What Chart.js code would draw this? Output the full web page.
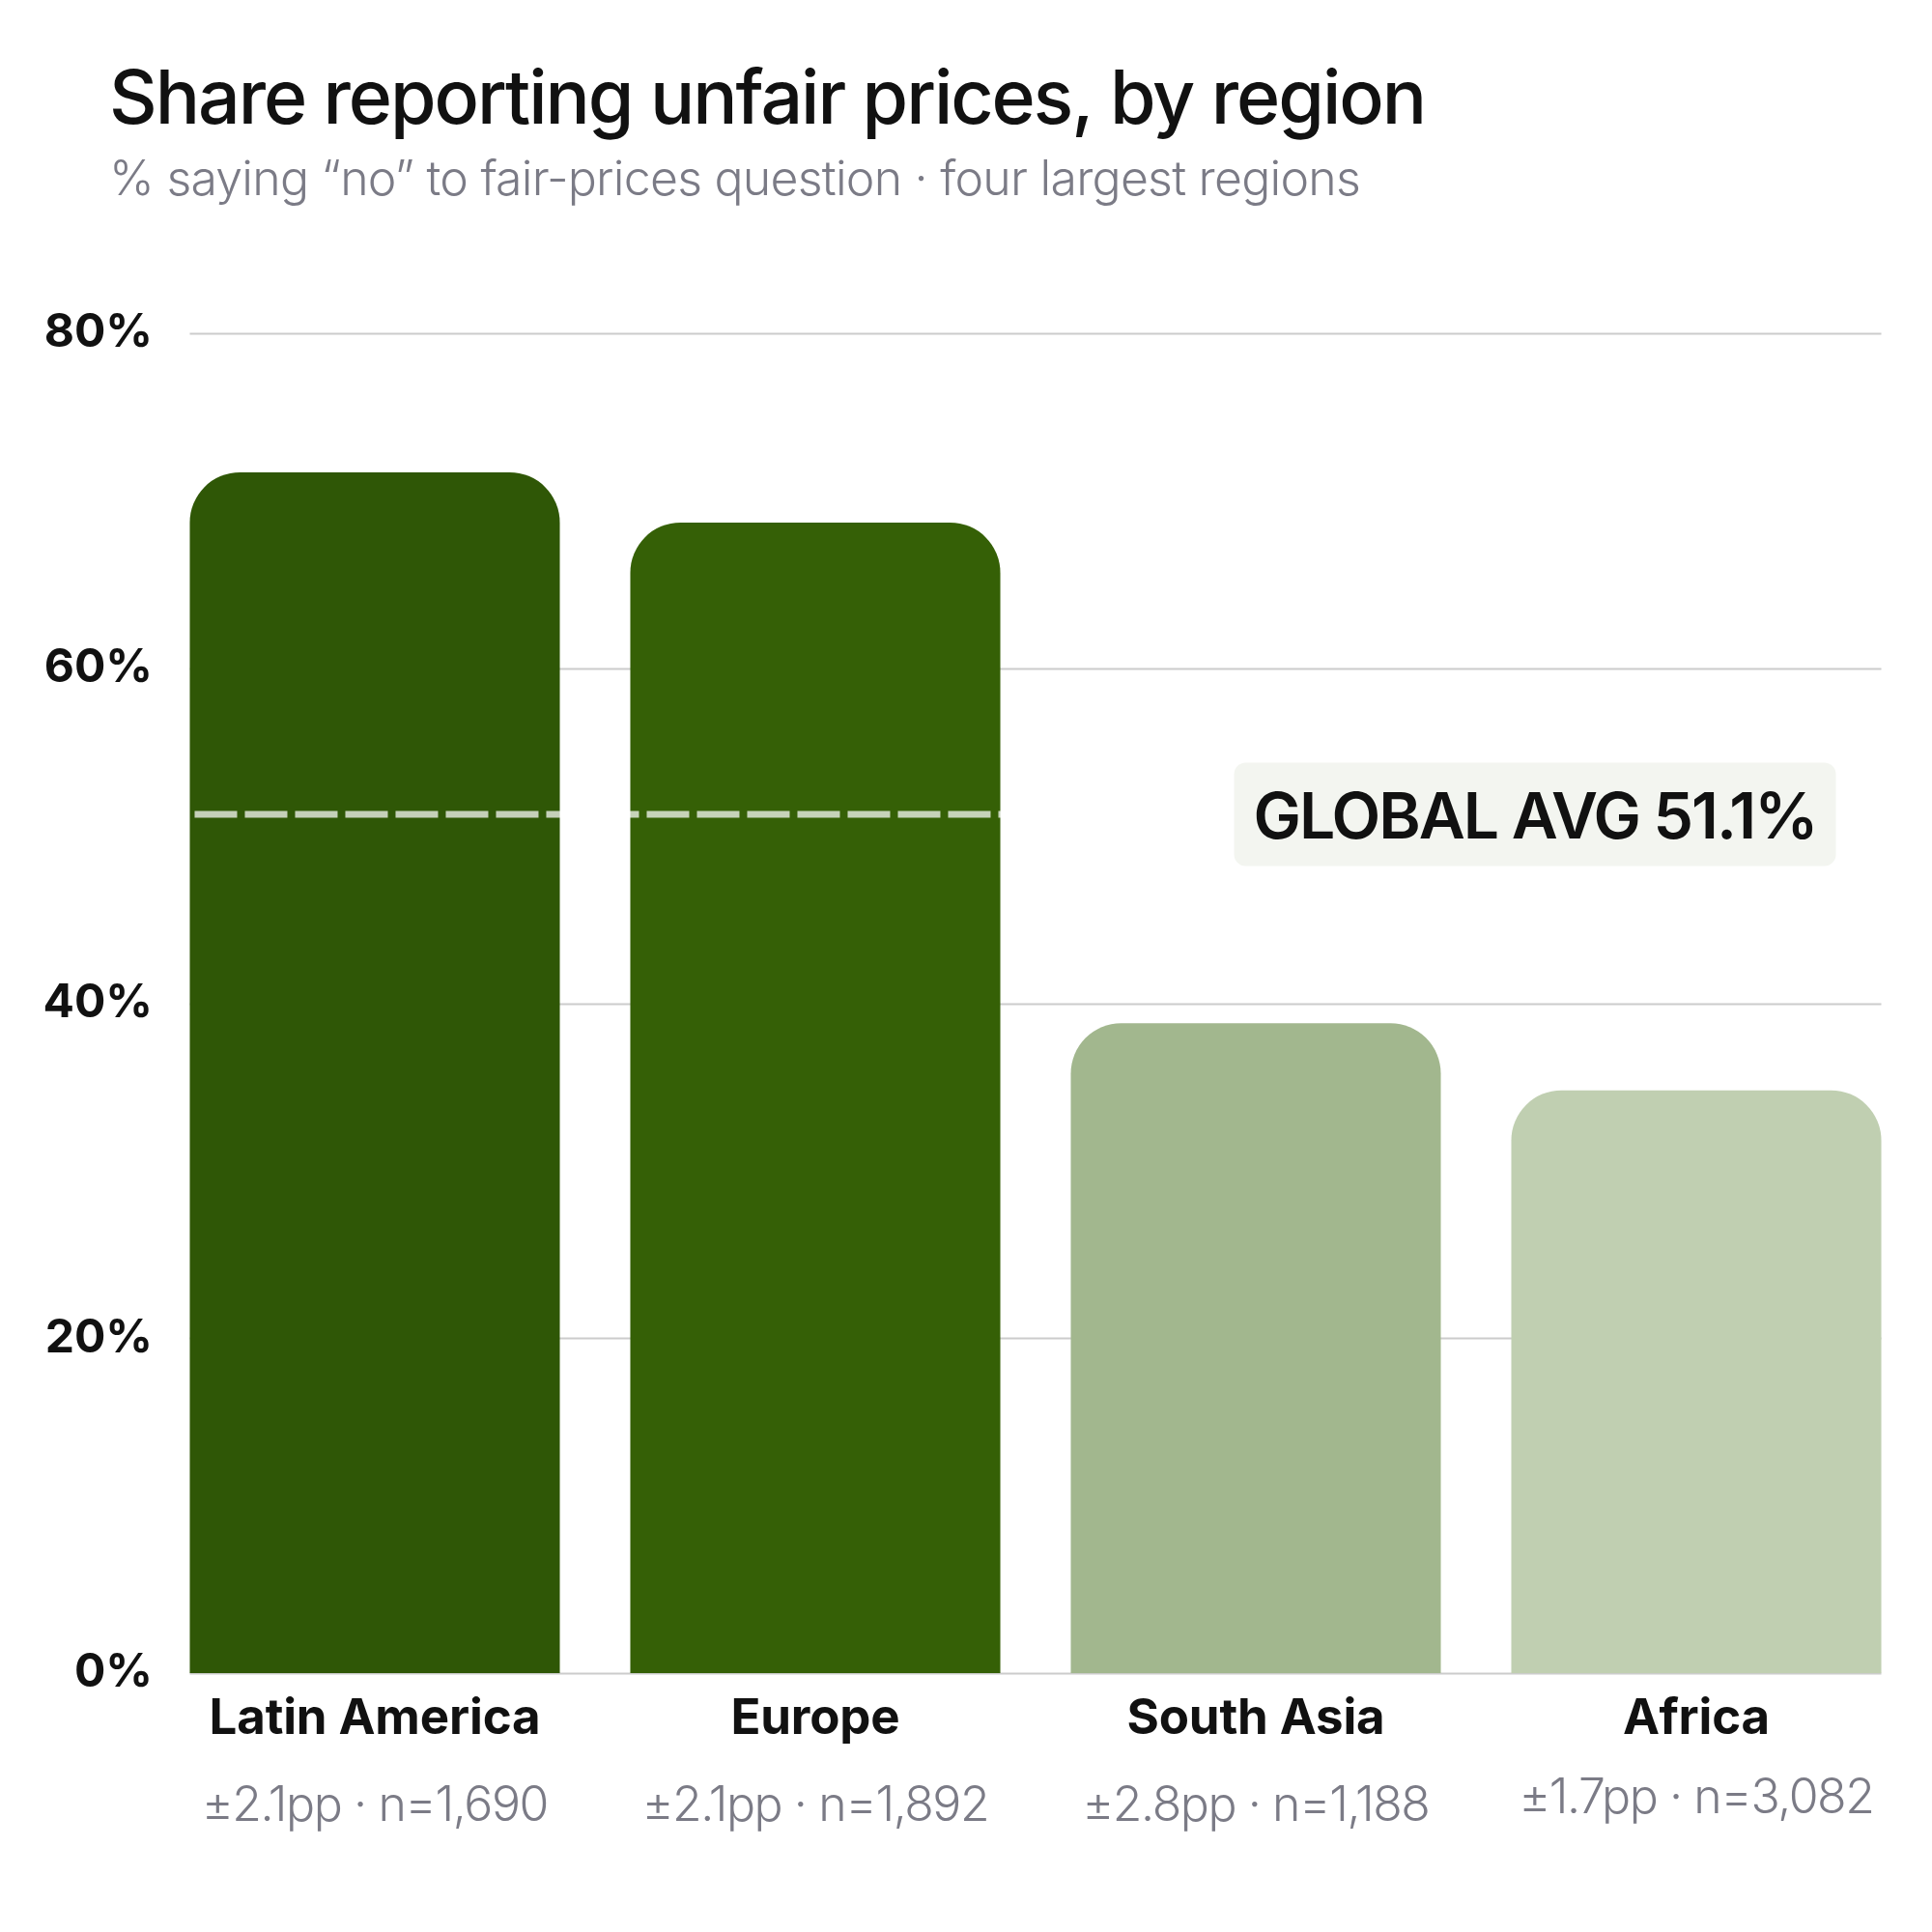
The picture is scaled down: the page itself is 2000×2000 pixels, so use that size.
<!DOCTYPE html>
<html>
<head>
<meta charset="utf-8">
<script src="https://cdn.jsdelivr.net/npm/chart.js@4.4.1/dist/chart.umd.min.js"></script>
<style>
  html, body { margin: 0; padding: 0; background: #fff; }
  #wrap { width: 2000px; height: 2000px; position: relative; }
</style>
</head>
<body>
<div id="wrap"><canvas id="regionChart"></canvas></div>
<script>
// data
const regions = ['Latin America', 'Europe', 'South Asia', 'Africa'];
const shareNo = [71.7, 68.7, 38.8, 34.8];
const marginPP = [2.1, 2.1, 2.8, 1.7];
const sampleN = [1690, 1892, 1188, 3082];
const globalAvg = 51.1;
const yTicks = [0, 20, 40, 60, 80];
const barColors = ['#2f5706', '#356006', '#a2b78e', '#c0cfb1'];

const FONT = 'Inter, "Noto Sans", sans-serif';
const GREY = '#7b7b86';

function statLabel(i) {
  return '±' + marginPP[i].toFixed(1) + 'pp · n=' + sampleN[i].toLocaleString('en-US');
}

// squeeze a string to the width it has in the reference
function spacingFor(ctx, text, target) {
  ctx.letterSpacing = '0px';
  const w = ctx.measureText(text).width;
  return (target - w) / [...text].length;
}

const overlay = {
  id: 'overlay',
  beforeDatasetsDraw(chart) {
    const ctx = chart.ctx;
    const y = chart.scales.y;
    const bars = chart.getDatasetMeta(0).data;
    const left = bars[0].x - bars[0].width / 2;
    const right = bars[bars.length - 1].x + bars[bars.length - 1].width / 2;
    ctx.save();
    ctx.strokeStyle = '#cccccc';
    ctx.lineWidth = 2;
    yTicks.forEach(t => {
      const py = Math.round(y.getPixelForValue(t)) + 0.5;
      ctx.beginPath();
      ctx.moveTo(left, py);
      ctx.lineTo(right, py);
      ctx.stroke();
    });
    ctx.restore();
  },
  afterDatasetsDraw(chart) {
    const ctx = chart.ctx;
    const y = chart.scales.y;
    const bars = chart.getDatasetMeta(0).data;
    const left = bars[0].x - bars[0].width / 2;
    const right = bars[bars.length - 1].x + bars[bars.length - 1].width / 2;
    const ay = y.getPixelForValue(globalAvg);

    // average line: translucent white, so it only shows on the dark bars
    ctx.save();
    ctx.strokeStyle = 'rgba(255,255,255,0.72)';
    ctx.lineWidth = 7;
    ctx.setLineDash([44, 8]);
    ctx.beginPath();
    ctx.moveTo(left + 5, ay - 3);
    ctx.lineTo(right, ay - 3);
    ctx.stroke();
    ctx.restore();

    // label box
    ctx.save();
    const txt = 'GLOBAL AVG ' + globalAvg.toFixed(1) + '%';
    ctx.font = '600 66px ' + FONT;
    ctx.letterSpacing = spacingFor(ctx, txt, 583) + 'px';
    const boxR = right - 47, boxW = 583 + 40, boxH = 107;
    ctx.fillStyle = '#f3f5f0';
    ctx.beginPath();
    ctx.roundRect(boxR - boxW, ay - 3 - boxH / 2, boxW, boxH, 12);
    ctx.fill();
    ctx.fillStyle = '#111111';
    ctx.textAlign = 'left';
    ctx.textBaseline = 'alphabetic';
    ctx.fillText(txt, boxR - boxW + 20, ay + 22);
    ctx.restore();

    // category labels under the bars
    ctx.save();
    ctx.textAlign = 'center';
    ctx.textBaseline = 'alphabetic';
    ctx.font = '700 51px ' + FONT;
    const sp1 = spacingFor(ctx, regions[0], 343) / 51;
    ctx.font = '300 50px ' + FONT;
    const sp2 = spacingFor(ctx, statLabel(0), 358) / 50;
    const base = y.getPixelForValue(0);
    bars.forEach((b, i) => {
      ctx.font = '700 51px ' + FONT;
      ctx.letterSpacing = (sp1 * 51) + 'px';
      ctx.fillStyle = '#111111';
      ctx.fillText(regions[i], b.x, base + 63);
      ctx.font = '300 50px ' + FONT;
      ctx.letterSpacing = (sp2 * 50) + 'px';
      ctx.fillStyle = GREY;
      ctx.fillText(statLabel(i), b.x, base + (i === 3 ? 145 : 153));
    });
    ctx.restore();
  },
  afterDraw(chart) {
    const ctx = chart.ctx;
    ctx.save();
    ctx.textAlign = 'left';
    ctx.textBaseline = 'alphabetic';
    const title = 'Share reporting unfair prices, by region';
    ctx.font = '500 77px ' + FONT;
    ctx.letterSpacing = spacingFor(ctx, title, 1362) + 'px';
    ctx.fillStyle = '#111111';
    ctx.fillText(title, 113, 128);
    const sub = '% saying “no” to fair-prices question · four largest regions';
    ctx.font = '300 50px ' + FONT;
    ctx.letterSpacing = spacingFor(ctx, sub, 1295) + 'px';
    ctx.fillStyle = GREY;
    ctx.fillText(sub, 113, 202);
    ctx.restore();
  }
};

const ctx = document.getElementById('regionChart').getContext('2d');

new Chart(ctx, {
  type: 'bar',
  data: {
    labels: regions,
    datasets: [{
      data: shareNo,
      backgroundColor: barColors,
      borderRadius: 52,
      borderSkipped: 'start',
      categoryPercentage: 1,
      barPercentage: 0.84
    }]
  },
  options: {
    responsive: true,
    maintainAspectRatio: false,
    animation: false,
    layout: { padding: { top: 345, right: 16, bottom: 268, left: 0 } },
    plugins: {
      legend: { display: false },
      tooltip: { enabled: false }
    },
    scales: {
      x: {
        display: false,
        offset: true
      },
      y: {
        min: 0,
        max: 80,
        afterFit(scale) { scale.width = 160; },
        afterBuildTicks(scale) { scale.ticks = yTicks.map(v => ({ value: v })); },
        grid: { display: false, drawTicks: false },
        border: { display: false },
        ticks: {
          padding: 2,
          color: '#111111',
          font: { family: FONT, size: 48, weight: '700' },
          callback: v => v + '%'
        }
      }
    }
  },
  plugins: [overlay]
});
</script>
</body>
</html>
